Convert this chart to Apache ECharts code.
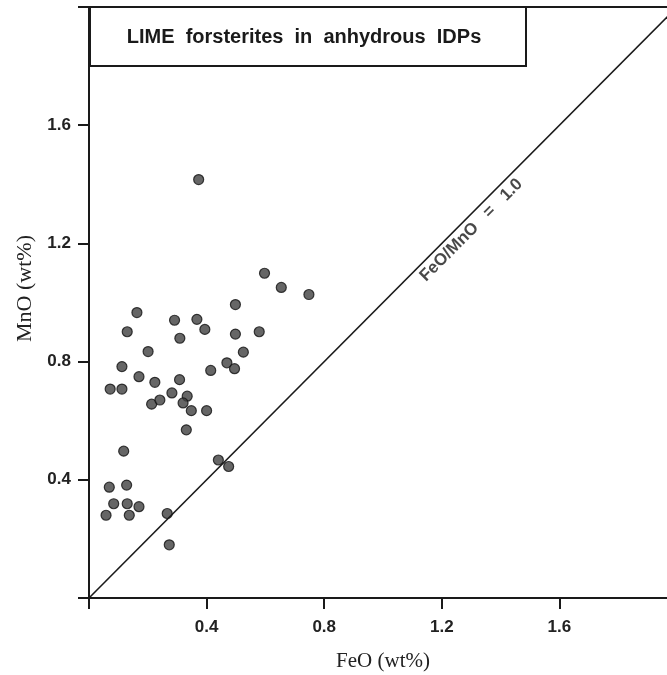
<!DOCTYPE html>
<html>
<head>
<meta charset="utf-8">
<script src="https://cdn.jsdelivr.net/npm/echarts@6/dist/echarts.min.js"></script>
<style>
  html, body { margin: 0; padding: 0; background: #fff; }
  #chart { width: 667px; height: 675px; }
</style>
</head>
<body>
<div id="chart"></div>
<script>
// FeO vs MnO (wt%) of LIME forsterites
var feo = [0.373, 0.597, 0.654, 0.748, 0.498, 0.163, 0.291, 0.367, 0.394, 0.130,
           0.309, 0.498, 0.579, 0.201, 0.525, 0.112, 0.469, 0.495, 0.414, 0.072,
           0.112, 0.170, 0.224, 0.308, 0.213, 0.241, 0.282, 0.334, 0.320, 0.348,
           0.400, 0.331, 0.118, 0.440, 0.475, 0.069, 0.128, 0.084, 0.130, 0.170,
           0.058, 0.137, 0.266, 0.273];
var mno = [1.416, 1.099, 1.051, 1.027, 0.993, 0.966, 0.940, 0.943, 0.909, 0.901,
           0.879, 0.893, 0.901, 0.834, 0.832, 0.783, 0.796, 0.776, 0.770, 0.707,
           0.707, 0.749, 0.730, 0.739, 0.656, 0.670, 0.694, 0.683, 0.660, 0.634,
           0.634, 0.569, 0.497, 0.467, 0.445, 0.375, 0.382, 0.319, 0.319, 0.309,
           0.280, 0.280, 0.286, 0.180];
var ticks = [0.4, 0.8, 1.2, 1.6];
var ratioLine = [[0, 0], [2, 2]];       // FeO/MnO = 1.0
var ratioLabelAt = [1.30, 1.245];

var points = feo.map(function (v, i) { return [v, mno[i]]; });

function tickText(v) {
  var hit = ticks.filter(function (t) { return Math.abs(t - v) < 1e-6; });
  return hit.length ? hit[0].toFixed(1) : '';
}

var myChart = echarts.init(document.getElementById('chart'));
var option = {
  backgroundColor: '#fff',
  animation: false,
  grid: {
    left: 89, right: -10, top: 7, bottom: 77,
    outerBoundsMode: 'none',
    show: true, borderColor: '#1a1a1a', borderWidth: 2
  },
  xAxis: {
    type: 'value', min: 0, max: 2, interval: 0.4,
    name: 'FeO (wt%)', nameLocation: 'middle', nameGap: 53,
    nameTextStyle: { fontFamily: 'Liberation Serif', fontSize: 21, color: '#222' },
    axisLine: { lineStyle: { color: '#1a1a1a', width: 2 } },
    axisTick: { length: 11, lineStyle: { color: '#1a1a1a', width: 2 } },
    axisLabel: { margin: 21, fontFamily: 'Liberation Sans', fontWeight: 'bold', fontSize: 17, color: '#222', formatter: tickText },
    splitLine: { show: false }
  },
  yAxis: {
    type: 'value', min: 0, max: 2, interval: 0.4,
    name: 'MnO (wt%)', nameLocation: 'middle', nameGap: 50,
    nameTextStyle: { fontFamily: 'Liberation Serif', fontSize: 22, color: '#222', padding: [0, 0, 0, 28] },
    axisLine: { lineStyle: { color: '#1a1a1a', width: 2 } },
    axisTick: { length: 11, lineStyle: { color: '#1a1a1a', width: 2 } },
    axisLabel: { margin: 18, fontFamily: 'Liberation Sans', fontWeight: 'bold', fontSize: 17, color: '#222', formatter: tickText },
    splitLine: { show: false }
  },
  graphic: [
    {
      type: 'rect', z: 100,
      shape: { x: 90, y: 7, width: 436, height: 59 },
      style: { fill: '#fff', stroke: '#1a1a1a', lineWidth: 2 }
    },
    {
      type: 'text', z: 101, x: 304, y: 37,
      style: {
        text: 'LIME  forsterites  in  anhydrous  IDPs',
        fontFamily: 'Liberation Sans', fontWeight: 'bold', fontSize: 20,
        fill: '#1a1a1a', align: 'center', verticalAlign: 'middle'
      }
    }
  ],
  series: [
    {
      type: 'line', data: ratioLine, symbol: 'none', silent: true,
      lineStyle: { color: '#1a1a1a', width: 1.6 }
    },
    {
      type: 'scatter', data: [ratioLabelAt], symbolSize: 0, silent: true,
      label: {
        show: true, position: 'inside', rotate: 45,
        formatter: 'FeO/MnO   =   1.0',
        fontFamily: 'Liberation Sans', fontWeight: 'bold', fontSize: 17, color: '#1a1a1a'
      }
    },
    {
      type: 'scatter', data: points, symbol: 'circle', symbolSize: 10,
      itemStyle: { color: '#404040', borderColor: '#111', borderWidth: 1.2 }
    }
  ]
};
myChart.setOption(option);
</script>
</body>
</html>
